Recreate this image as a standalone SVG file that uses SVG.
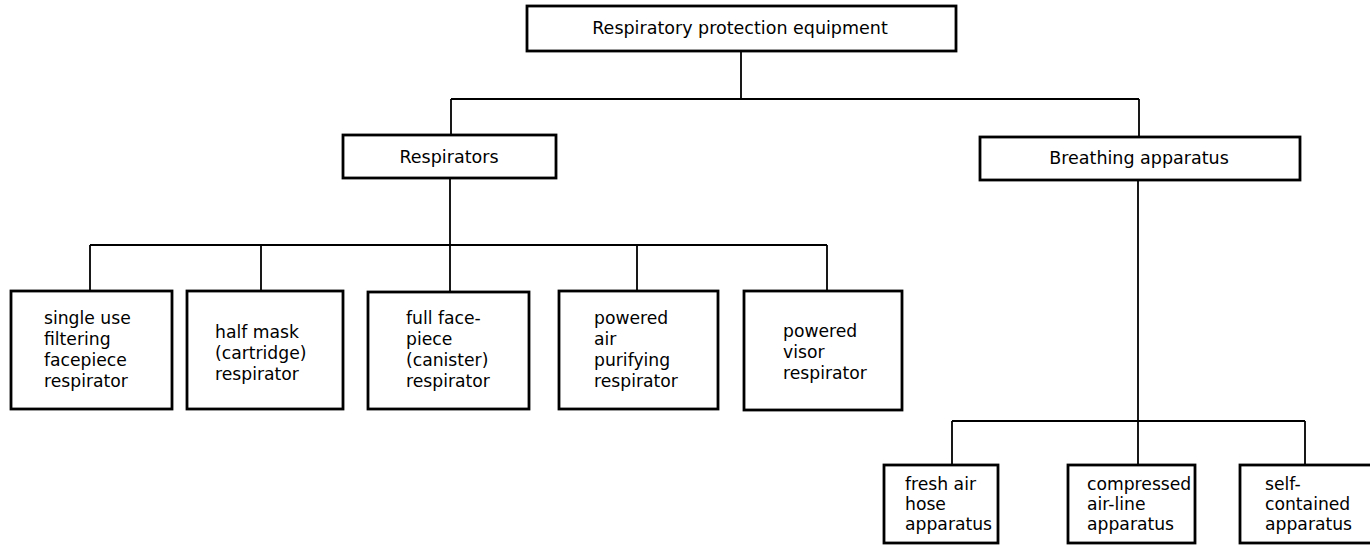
<svg xmlns="http://www.w3.org/2000/svg" width="1370" height="545" viewBox="0 0 1370 545">
<style>
.box{fill:#fff;stroke:#000;stroke-width:2.8}
.ln{fill:none;stroke:#000;stroke-width:1.8}
text{font-family:"DejaVu Sans","Liberation Sans",sans-serif;fill:#000}
.h{font-size:17.5px;text-anchor:middle}
.t{font-size:17.2px}
</style>
<rect width="1370" height="545" fill="#fff"/>
<g id="connectors">
<path class="ln" d="M741 50V99M451 99H1139M451 99V135M1139 99V137"/>
<path class="ln" d="M450 178V292M90 245H827M90 245V291M261 245V291M637 245V291M827 245V291"/>
<path class="ln" d="M1138 180V465M952 421H1305M952 421V465M1305 421V465"/>
</g>
<g id="n-root"><rect class="box" x="527" y="6" width="429" height="45"/><text class="h" x="740" y="34">Respiratory protection equipment</text></g>
<g id="n-respirators"><rect class="box" x="343" y="135" width="213" height="43"/><text class="h" x="449" y="163">Respirators</text></g>
<g id="n-breathing"><rect class="box" x="980" y="137" width="320" height="43"/><text class="h" x="1139" y="164">Breathing apparatus</text></g>
<g id="n-single"><rect class="box" x="11" y="291" width="161" height="118"/><text class="t" x="44" y="324">single use<tspan x="44" dy="21">filtering</tspan><tspan x="44" dy="21">facepiece</tspan><tspan x="44" dy="21">respirator</tspan></text></g>
<g id="n-half"><rect class="box" x="187" y="291" width="156" height="118"/><text class="t" x="215" y="338">half mask<tspan x="215" dy="21">(cartridge)</tspan><tspan x="215" dy="21">respirator</tspan></text></g>
<g id="n-full"><rect class="box" x="368" y="292" width="161" height="117"/><text class="t" x="406" y="324">full face-<tspan x="406" dy="21">piece</tspan><tspan x="406" dy="21">(canister)</tspan><tspan x="406" dy="21">respirator</tspan></text></g>
<g id="n-powered-air"><rect class="box" x="559" y="291" width="159" height="118"/><text class="t" x="594" y="324">powered<tspan x="594" dy="21">air</tspan><tspan x="594" dy="21">purifying</tspan><tspan x="594" dy="21">respirator</tspan></text></g>
<g id="n-powered-visor"><rect class="box" x="744" y="291" width="158" height="119"/><text class="t" x="783" y="337">powered<tspan x="783" dy="21">visor</tspan><tspan x="783" dy="21">respirator</tspan></text></g>
<g id="n-fresh"><rect class="box" x="884" y="465" width="114" height="78"/><text class="t" x="905" y="490">fresh air<tspan x="905" dy="20">hose</tspan><tspan x="905" dy="20">apparatus</tspan></text></g>
<g id="n-compressed"><rect class="box" x="1068" y="465" width="127" height="78"/><text class="t" x="1087" y="490">compressed<tspan x="1087" dy="20">air-line</tspan><tspan x="1087" dy="20">apparatus</tspan></text></g>
<g id="n-self"><rect class="box" x="1240" y="465" width="140" height="78"/><text class="t" x="1265" y="490">self-<tspan x="1265" dy="20">contained</tspan><tspan x="1265" dy="20">apparatus</tspan></text></g>
</svg>
